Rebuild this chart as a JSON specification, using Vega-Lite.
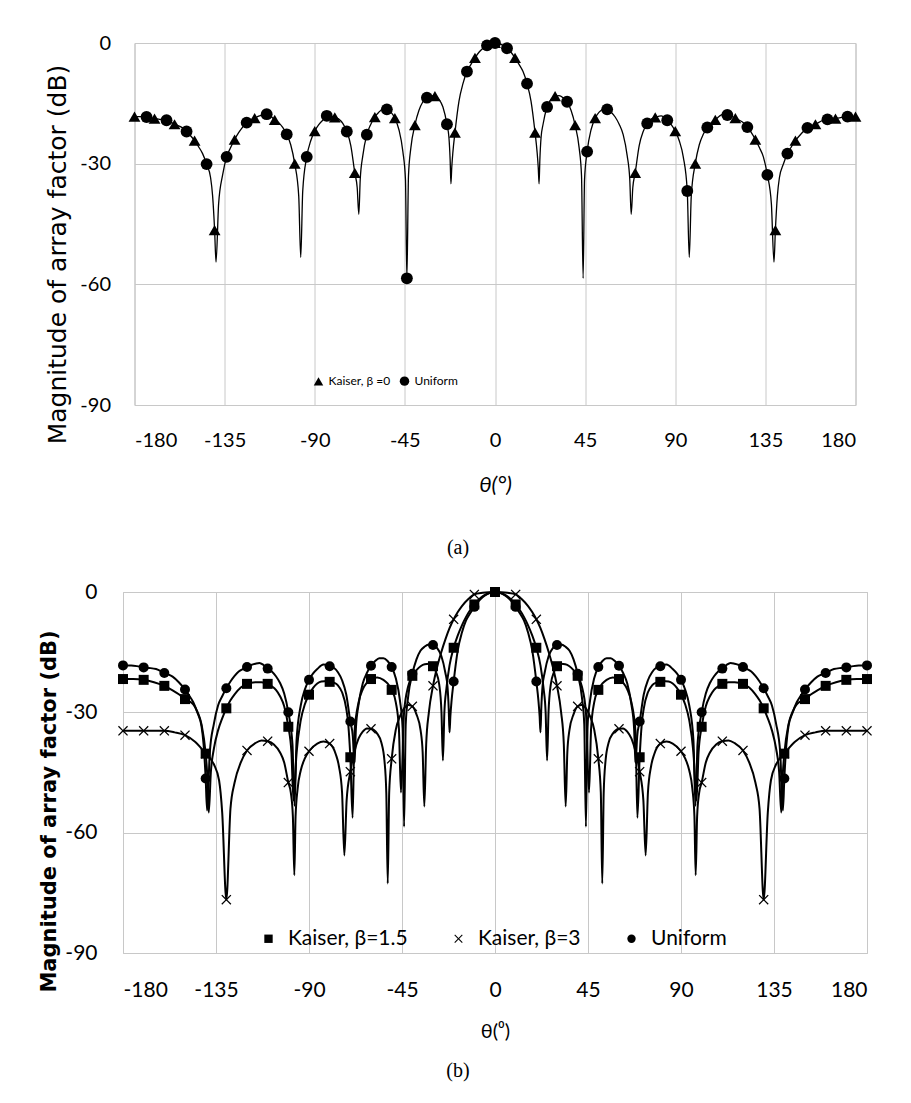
{
  "$schema": "https://vega.github.io/schema/vega-lite/v6.json",
  "autosize": {"type": "pad"},
  "padding": {"left": 37, "top": 32, "right": 20, "bottom": 10},
  "background": "white",
  "bounds": "flush",
  "center": true,
  "spacing": 187,
  "resolve": {"scale": {"shape": "independent"}, "legend": {"shape": "independent"}},
  "config": {
    "view": {"stroke": "#c4c4c4", "strokeWidth": 1},
    "axis": {"grid": true, "gridColor": "#c8c8c8", "gridWidth": 1, "domain": false, "ticks": false, "labelFont": "Lato", "labelFontSize": 20, "labelColor": "#000", "titleFont": "Lato", "titleColor": "#000", "titleFontWeight": "normal", "titleFontSize": 20},
    "legend": {"labelFont": "Lato", "labelColor": "#000"},
    "title": {"font": "Liberation Serif", "fontSize": 20, "fontWeight": "normal", "color": "#000"}
  },
  "datasets": {
    "uni": [
      {"t":-180,"v":-18.3},{"t":-176,"v":-18.3},{"t":-172,"v":-18.6},{"t":-168,"v":-18.9},{"t":-164,"v":-19.2},{"t":-160,"v":-20.2},{"t":-156,"v":-21.1},{"t":-153,"v":-22.5},{"t":-150,"v":-24.3},{"t":-148,"v":-25.8},{"t":-146,"v":-27.5},{"t":-144,"v":-30.1},{"t":-142,"v":-33.5},{"t":-141,"v":-38},{"t":-140,"v":-46.5},{"t":-139.3,"v":-54.5},{"t":-138,"v":-40},{"t":-136,"v":-32.8},{"t":-134,"v":-28.3},{"t":-132,"v":-26},{"t":-130,"v":-24},{"t":-128,"v":-22.3},{"t":-126,"v":-20.9},{"t":-124,"v":-19.8},{"t":-122,"v":-19.2},{"t":-120,"v":-18.7},{"t":-118,"v":-18.2},{"t":-116,"v":-17.9},{"t":-114,"v":-17.7},{"t":-112,"v":-18.2},{"t":-110,"v":-19.1},{"t":-108,"v":-19.8},{"t":-106,"v":-21},{"t":-104,"v":-22.7},{"t":-102,"v":-25.3},{"t":-100,"v":-30},{"t":-98,"v":-38},{"t":-97,"v":-53.3},{"t":-96,"v":-36.8},{"t":-94,"v":-28.3},{"t":-92,"v":-24.3},{"t":-90,"v":-21.9},{"t":-88,"v":-20.3},{"t":-86,"v":-19.2},{"t":-83,"v":-18.1},{"t":-80,"v":-18.5},{"t":-78,"v":-18.9},{"t":-76,"v":-20},{"t":-74,"v":-22},{"t":-72,"v":-25.5},{"t":-70,"v":-32.3},{"t":-68.8,"v":-36},{"t":-68,"v":-42.6},{"t":-67.3,"v":-34},{"t":-66,"v":-28},{"t":-64,"v":-22.8},{"t":-62,"v":-20.2},{"t":-60,"v":-18.4},{"t":-58,"v":-17.2},{"t":-56,"v":-16.5},{"t":-54,"v":-16.5},{"t":-52,"v":-17.2},{"t":-50,"v":-18.7},{"t":-48,"v":-21.5},{"t":-46,"v":-27},{"t":-44.7,"v":-34},{"t":-44,"v":-58.5},{"t":-43.2,"v":-33},{"t":-42,"v":-26},{"t":-40,"v":-20.4},{"t":-38,"v":-16.8},{"t":-36,"v":-14.6},{"t":-34,"v":-13.6},{"t":-32,"v":-13.1},{"t":-30,"v":-13.2},{"t":-28,"v":-14},{"t":-26,"v":-15.9},{"t":-24,"v":-20.2},{"t":-23,"v":-23.5},{"t":-22.4,"v":-29},{"t":-22,"v":-35},{"t":-21.6,"v":-31},{"t":-21,"v":-27},{"t":-20,"v":-22.3},{"t":-18,"v":-14.5},{"t":-16,"v":-10.1},{"t":-14,"v":-7.1},{"t":-12,"v":-5.3},{"t":-10,"v":-3.7},{"t":-8,"v":-2.3},{"t":-6,"v":-1.3},{"t":-4,"v":-0.6},{"t":-2,"v":-0.15},
      {"t":0,"v":0},{"t":2,"v":-0.15},{"t":4,"v":-0.6},{"t":6,"v":-1.3},{"t":8,"v":-2.3},{"t":10,"v":-3.7},{"t":12,"v":-5.3},{"t":14,"v":-7.1},{"t":16,"v":-10.1},{"t":18,"v":-14.5},{"t":20,"v":-22.3},{"t":21,"v":-27},{"t":21.6,"v":-31},{"t":22,"v":-35},{"t":22.4,"v":-29},{"t":23,"v":-23.5},{"t":24,"v":-20.2},{"t":26,"v":-15.9},{"t":28,"v":-14},{"t":30,"v":-13.2},{"t":32,"v":-13.1},{"t":34,"v":-13.6},{"t":36,"v":-14.6},{"t":38,"v":-16.8},{"t":40,"v":-20.4},{"t":42,"v":-26},{"t":43.2,"v":-33},{"t":44,"v":-58.5},{"t":44.7,"v":-34},{"t":46,"v":-27},{"t":48,"v":-21.5},{"t":50,"v":-18.7},{"t":52,"v":-17.2},{"t":54,"v":-16.5},{"t":56,"v":-16.5},{"t":58,"v":-17.2},{"t":60,"v":-18.4},{"t":62,"v":-20.2},{"t":64,"v":-22.8},{"t":66,"v":-28},{"t":67.3,"v":-34},{"t":68,"v":-42.6},{"t":68.8,"v":-36},{"t":70,"v":-32.3},{"t":72,"v":-25.5},{"t":74,"v":-22},{"t":76,"v":-20},{"t":78,"v":-18.9},{"t":80,"v":-18.5},{"t":83,"v":-18.1},{"t":86,"v":-19.2},{"t":88,"v":-20.3},{"t":90,"v":-21.9},{"t":92,"v":-24.3},{"t":94,"v":-28.3},{"t":96,"v":-36.8},{"t":97,"v":-53.3},{"t":98,"v":-38},{"t":100,"v":-30},{"t":102,"v":-25.3},{"t":104,"v":-22.7},{"t":106,"v":-21},{"t":108,"v":-19.8},{"t":110,"v":-19.1},{"t":112,"v":-18.2},{"t":114,"v":-17.7},{"t":116,"v":-17.9},{"t":118,"v":-18.2},{"t":120,"v":-18.7},{"t":122,"v":-19.2},{"t":124,"v":-19.8},{"t":126,"v":-20.9},{"t":128,"v":-22.3},{"t":130,"v":-24},{"t":132,"v":-26},{"t":134,"v":-28.3},{"t":136,"v":-32.8},{"t":138,"v":-40},{"t":139.3,"v":-54.5},{"t":140,"v":-46.5},{"t":141,"v":-38},{"t":142,"v":-33.5},{"t":144,"v":-30.1},{"t":146,"v":-27.5},{"t":148,"v":-25.8},{"t":150,"v":-24.3},{"t":153,"v":-22.5},{"t":156,"v":-21.1},{"t":160,"v":-20.2},{"t":164,"v":-19.2},{"t":168,"v":-18.9},{"t":172,"v":-18.6},{"t":176,"v":-18.3},{"t":180,"v":-18.3}
    ],
    "topMk": [
      {"t":-180,"v":-18.3,"s":"Kaiser, β =0"},{"t":-170,"v":-18.8,"s":"Kaiser, β =0"},{"t":-160,"v":-20.2,"s":"Kaiser, β =0"},{"t":-150,"v":-24.3,"s":"Kaiser, β =0"},{"t":-140,"v":-46.5,"s":"Kaiser, β =0"},{"t":-130,"v":-24,"s":"Kaiser, β =0"},{"t":-120,"v":-18.7,"s":"Kaiser, β =0"},{"t":-110,"v":-19.1,"s":"Kaiser, β =0"},{"t":-100,"v":-30,"s":"Kaiser, β =0"},{"t":-90,"v":-21.9,"s":"Kaiser, β =0"},{"t":-80,"v":-18.5,"s":"Kaiser, β =0"},{"t":-70,"v":-32.3,"s":"Kaiser, β =0"},{"t":-60,"v":-18.4,"s":"Kaiser, β =0"},{"t":-50,"v":-18.7,"s":"Kaiser, β =0"},{"t":-40,"v":-20.4,"s":"Kaiser, β =0"},{"t":-30,"v":-13.2,"s":"Kaiser, β =0"},{"t":-20,"v":-22.3,"s":"Kaiser, β =0"},{"t":-10,"v":-3.7,"s":"Kaiser, β =0"},{"t":0,"v":0,"s":"Kaiser, β =0"},{"t":10,"v":-3.7,"s":"Kaiser, β =0"},{"t":20,"v":-22.3,"s":"Kaiser, β =0"},{"t":30,"v":-13.2,"s":"Kaiser, β =0"},{"t":40,"v":-20.4,"s":"Kaiser, β =0"},{"t":50,"v":-18.7,"s":"Kaiser, β =0"},{"t":70,"v":-32.3,"s":"Kaiser, β =0"},{"t":80,"v":-18.5,"s":"Kaiser, β =0"},{"t":90,"v":-21.9,"s":"Kaiser, β =0"},{"t":100,"v":-30,"s":"Kaiser, β =0"},{"t":110,"v":-19.1,"s":"Kaiser, β =0"},{"t":120,"v":-18.7,"s":"Kaiser, β =0"},{"t":130,"v":-24,"s":"Kaiser, β =0"},{"t":140,"v":-46.5,"s":"Kaiser, β =0"},{"t":150,"v":-24.3,"s":"Kaiser, β =0"},{"t":160,"v":-20.2,"s":"Kaiser, β =0"},{"t":170,"v":-18.8,"s":"Kaiser, β =0"},{"t":180,"v":-18.3,"s":"Kaiser, β =0"},
      {"t":-174,"v":-18.4,"s":"Uniform"},{"t":-164,"v":-19.2,"s":"Uniform"},{"t":-154,"v":-22,"s":"Uniform"},{"t":-144,"v":-30.1,"s":"Uniform"},{"t":-134,"v":-28.3,"s":"Uniform"},{"t":-124,"v":-19.8,"s":"Uniform"},{"t":-114,"v":-17.7,"s":"Uniform"},{"t":-104,"v":-22.7,"s":"Uniform"},{"t":-94,"v":-28.3,"s":"Uniform"},{"t":-84,"v":-18.1,"s":"Uniform"},{"t":-74,"v":-22,"s":"Uniform"},{"t":-64,"v":-22.8,"s":"Uniform"},{"t":-54,"v":-16.5,"s":"Uniform"},{"t":-44,"v":-58.5,"s":"Uniform"},{"t":-34,"v":-13.6,"s":"Uniform"},{"t":-24,"v":-20.2,"s":"Uniform"},{"t":-14,"v":-7.1,"s":"Uniform"},{"t":-4,"v":-0.6,"s":"Uniform"},{"t":0,"v":0,"s":"Uniform"},{"t":6,"v":-1.3,"s":"Uniform"},{"t":16,"v":-10.1,"s":"Uniform"},{"t":26,"v":-15.9,"s":"Uniform"},{"t":36,"v":-14.6,"s":"Uniform"},{"t":46,"v":-27,"s":"Uniform"},{"t":56,"v":-16.5,"s":"Uniform"},{"t":76,"v":-20,"s":"Uniform"},{"t":86,"v":-19.2,"s":"Uniform"},{"t":96,"v":-36.8,"s":"Uniform"},{"t":106,"v":-21,"s":"Uniform"},{"t":116,"v":-17.9,"s":"Uniform"},{"t":126,"v":-20.9,"s":"Uniform"},{"t":136,"v":-32.8,"s":"Uniform"},{"t":146,"v":-27.5,"s":"Uniform"},{"t":156,"v":-21.1,"s":"Uniform"},{"t":166,"v":-19,"s":"Uniform"},{"t":176,"v":-18.3,"s":"Uniform"}
    ],
    "kai": [
      {"t":-180,"v":-21.7,"s":"b15"},{"t":-175,"v":-21.7,"s":"b15"},{"t":-170,"v":-21.9,"s":"b15"},{"t":-165,"v":-22.5,"s":"b15"},{"t":-160,"v":-23.4,"s":"b15"},{"t":-156,"v":-24.5,"s":"b15"},{"t":-153,"v":-25.5,"s":"b15"},{"t":-150,"v":-26.7,"s":"b15"},{"t":-148,"v":-27.2,"s":"b15"},{"t":-146,"v":-28,"s":"b15"},{"t":-144,"v":-29.8,"s":"b15"},{"t":-142,"v":-33,"s":"b15"},{"t":-140,"v":-40.3,"s":"b15"},{"t":-139.3,"v":-45,"s":"b15"},{"t":-138.5,"v":-55,"s":"b15"},{"t":-137.5,"v":-45,"s":"b15"},{"t":-136,"v":-39,"s":"b15"},{"t":-134,"v":-34.5,"s":"b15"},{"t":-132,"v":-31.5,"s":"b15"},{"t":-130,"v":-29,"s":"b15"},{"t":-128,"v":-27,"s":"b15"},{"t":-126,"v":-25.5,"s":"b15"},{"t":-123,"v":-23.8,"s":"b15"},{"t":-120,"v":-22.9,"s":"b15"},{"t":-116,"v":-22.5,"s":"b15"},{"t":-113,"v":-22.5,"s":"b15"},{"t":-110,"v":-22.9,"s":"b15"},{"t":-108,"v":-23.5,"s":"b15"},{"t":-106,"v":-24.4,"s":"b15"},{"t":-104,"v":-26,"s":"b15"},{"t":-102,"v":-28.5,"s":"b15"},{"t":-100,"v":-33.6,"s":"b15"},{"t":-98.5,"v":-40,"s":"b15"},{"t":-97.5,"v":-52,"s":"b15"},{"t":-96,"v":-40,"s":"b15"},{"t":-94,"v":-32,"s":"b15"},{"t":-92,"v":-28,"s":"b15"},{"t":-90,"v":-25.6,"s":"b15"},{"t":-88,"v":-23.9,"s":"b15"},{"t":-86,"v":-22.8,"s":"b15"},{"t":-84,"v":-22.3,"s":"b15"},{"t":-81,"v":-22.2,"s":"b15"},{"t":-78,"v":-22.6,"s":"b15"},{"t":-76,"v":-23.3,"s":"b15"},{"t":-74,"v":-25,"s":"b15"},{"t":-72,"v":-29,"s":"b15"},{"t":-71,"v":-33,"s":"b15"},{"t":-70,"v":-41.2,"s":"b15"},{"t":-68.9,"v":-56.3,"s":"b15"},{"t":-68,"v":-35,"s":"b15"},{"t":-66,"v":-27.5,"s":"b15"},{"t":-64,"v":-24.3,"s":"b15"},{"t":-62,"v":-22.6,"s":"b15"},{"t":-60,"v":-21.7,"s":"b15"},{"t":-57,"v":-21.3,"s":"b15"},{"t":-54,"v":-21.9,"s":"b15"},{"t":-52,"v":-22.8,"s":"b15"},{"t":-50,"v":-24.4,"s":"b15"},{"t":-48,"v":-27.5,"s":"b15"},{"t":-46.5,"v":-34,"s":"b15"},{"t":-45.5,"v":-50,"s":"b15"},{"t":-44,"v":-30,"s":"b15"},{"t":-42,"v":-23.5,"s":"b15"},{"t":-40,"v":-20.9,"s":"b15"},{"t":-38,"v":-19.5,"s":"b15"},{"t":-36,"v":-18.5,"s":"b15"},{"t":-34,"v":-18,"s":"b15"},{"t":-32,"v":-17.9,"s":"b15"},{"t":-30,"v":-18.5,"s":"b15"},{"t":-28.5,"v":-20,"s":"b15"},{"t":-27,"v":-23,"s":"b15"},{"t":-25.9,"v":-30,"s":"b15"},{"t":-25.2,"v":-42,"s":"b15"},{"t":-24.5,"v":-30,"s":"b15"},{"t":-23.5,"v":-24,"s":"b15"},{"t":-22,"v":-18.3,"s":"b15"},{"t":-20,"v":-13.9,"s":"b15"},{"t":-18,"v":-10.8,"s":"b15"},{"t":-16,"v":-8.3,"s":"b15"},{"t":-14,"v":-6.2,"s":"b15"},{"t":-12,"v":-4.5,"s":"b15"},{"t":-10,"v":-3.1,"s":"b15"},{"t":-8,"v":-2,"s":"b15"},{"t":-6,"v":-1.1,"s":"b15"},{"t":-4,"v":-0.5,"s":"b15"},{"t":-2,"v":-0.1,"s":"b15"},
      {"t":0,"v":0,"s":"b15"},{"t":2,"v":-0.1,"s":"b15"},{"t":4,"v":-0.5,"s":"b15"},{"t":6,"v":-1.1,"s":"b15"},{"t":8,"v":-2,"s":"b15"},{"t":10,"v":-3.1,"s":"b15"},{"t":12,"v":-4.5,"s":"b15"},{"t":14,"v":-6.2,"s":"b15"},{"t":16,"v":-8.3,"s":"b15"},{"t":18,"v":-10.8,"s":"b15"},{"t":20,"v":-13.9,"s":"b15"},{"t":22,"v":-18.3,"s":"b15"},{"t":23.5,"v":-24,"s":"b15"},{"t":24.5,"v":-30,"s":"b15"},{"t":25.2,"v":-42,"s":"b15"},{"t":25.9,"v":-30,"s":"b15"},{"t":27,"v":-23,"s":"b15"},{"t":28.5,"v":-20,"s":"b15"},{"t":30,"v":-18.5,"s":"b15"},{"t":32,"v":-17.9,"s":"b15"},{"t":34,"v":-18,"s":"b15"},{"t":36,"v":-18.5,"s":"b15"},{"t":38,"v":-19.5,"s":"b15"},{"t":40,"v":-20.9,"s":"b15"},{"t":42,"v":-23.5,"s":"b15"},{"t":44,"v":-30,"s":"b15"},{"t":45.5,"v":-50,"s":"b15"},{"t":46.5,"v":-34,"s":"b15"},{"t":48,"v":-27.5,"s":"b15"},{"t":50,"v":-24.4,"s":"b15"},{"t":52,"v":-22.8,"s":"b15"},{"t":54,"v":-21.9,"s":"b15"},{"t":57,"v":-21.3,"s":"b15"},{"t":60,"v":-21.7,"s":"b15"},{"t":62,"v":-22.6,"s":"b15"},{"t":64,"v":-24.3,"s":"b15"},{"t":66,"v":-27.5,"s":"b15"},{"t":68,"v":-35,"s":"b15"},{"t":68.9,"v":-56.3,"s":"b15"},{"t":70,"v":-41.2,"s":"b15"},{"t":71,"v":-33,"s":"b15"},{"t":72,"v":-29,"s":"b15"},{"t":74,"v":-25,"s":"b15"},{"t":76,"v":-23.3,"s":"b15"},{"t":78,"v":-22.6,"s":"b15"},{"t":81,"v":-22.2,"s":"b15"},{"t":84,"v":-22.3,"s":"b15"},{"t":86,"v":-22.8,"s":"b15"},{"t":88,"v":-23.9,"s":"b15"},{"t":90,"v":-25.6,"s":"b15"},{"t":92,"v":-28,"s":"b15"},{"t":94,"v":-32,"s":"b15"},{"t":96,"v":-40,"s":"b15"},{"t":97.5,"v":-52,"s":"b15"},{"t":98.5,"v":-40,"s":"b15"},{"t":100,"v":-33.6,"s":"b15"},{"t":102,"v":-28.5,"s":"b15"},{"t":104,"v":-26,"s":"b15"},{"t":106,"v":-24.4,"s":"b15"},{"t":108,"v":-23.5,"s":"b15"},{"t":110,"v":-22.9,"s":"b15"},{"t":113,"v":-22.5,"s":"b15"},{"t":116,"v":-22.5,"s":"b15"},{"t":120,"v":-22.9,"s":"b15"},{"t":123,"v":-23.8,"s":"b15"},{"t":126,"v":-25.5,"s":"b15"},{"t":128,"v":-27,"s":"b15"},{"t":130,"v":-29,"s":"b15"},{"t":132,"v":-31.5,"s":"b15"},{"t":134,"v":-34.5,"s":"b15"},{"t":136,"v":-39,"s":"b15"},{"t":137.5,"v":-45,"s":"b15"},{"t":138.5,"v":-55,"s":"b15"},{"t":139.3,"v":-45,"s":"b15"},{"t":140,"v":-40.3,"s":"b15"},{"t":142,"v":-33,"s":"b15"},{"t":144,"v":-29.8,"s":"b15"},{"t":146,"v":-28,"s":"b15"},{"t":148,"v":-27.2,"s":"b15"},{"t":150,"v":-26.7,"s":"b15"},{"t":153,"v":-25.5,"s":"b15"},{"t":156,"v":-24.5,"s":"b15"},{"t":160,"v":-23.4,"s":"b15"},{"t":165,"v":-22.5,"s":"b15"},{"t":170,"v":-21.9,"s":"b15"},{"t":175,"v":-21.7,"s":"b15"},{"t":180,"v":-21.7,"s":"b15"},
      {"t":-180,"v":-34.6,"s":"b3"},{"t":-170,"v":-34.6,"s":"b3"},{"t":-160,"v":-34.6,"s":"b3"},{"t":-155,"v":-35,"s":"b3"},{"t":-150,"v":-35.7,"s":"b3"},{"t":-145,"v":-37.4,"s":"b3"},{"t":-140,"v":-40.3,"s":"b3"},{"t":-136,"v":-43,"s":"b3"},{"t":-133.5,"v":-47,"s":"b3"},{"t":-132,"v":-55,"s":"b3"},{"t":-130,"v":-76.7,"s":"b3"},{"t":-128,"v":-54,"s":"b3"},{"t":-126,"v":-47.5,"s":"b3"},{"t":-123,"v":-42.5,"s":"b3"},{"t":-120,"v":-39.5,"s":"b3"},{"t":-116,"v":-37.7,"s":"b3"},{"t":-113,"v":-37,"s":"b3"},{"t":-110,"v":-37.2,"s":"b3"},{"t":-107,"v":-38,"s":"b3"},{"t":-104,"v":-40,"s":"b3"},{"t":-102,"v":-42.5,"s":"b3"},{"t":-100,"v":-47.5,"s":"b3"},{"t":-98.8,"v":-50,"s":"b3"},{"t":-97.8,"v":-56,"s":"b3"},{"t":-97.1,"v":-70.6,"s":"b3"},{"t":-96.5,"v":-56,"s":"b3"},{"t":-95.5,"v":-49,"s":"b3"},{"t":-94,"v":-44.5,"s":"b3"},{"t":-92,"v":-41.5,"s":"b3"},{"t":-90,"v":-39.7,"s":"b3"},{"t":-86,"v":-37.8,"s":"b3"},{"t":-83,"v":-37.3,"s":"b3"},{"t":-80,"v":-37.8,"s":"b3"},{"t":-77,"v":-40.5,"s":"b3"},{"t":-75.5,"v":-43.5,"s":"b3"},{"t":-74,"v":-50,"s":"b3"},{"t":-72.9,"v":-65.7,"s":"b3"},{"t":-71.8,"v":-52,"s":"b3"},{"t":-70,"v":-44.8,"s":"b3"},{"t":-68,"v":-39.8,"s":"b3"},{"t":-66,"v":-36.5,"s":"b3"},{"t":-64,"v":-34.8,"s":"b3"},{"t":-62,"v":-34,"s":"b3"},{"t":-60,"v":-34.1,"s":"b3"},{"t":-57,"v":-35.3,"s":"b3"},{"t":-55,"v":-37.5,"s":"b3"},{"t":-53.5,"v":-42,"s":"b3"},{"t":-52.6,"v":-50,"s":"b3"},{"t":-51.9,"v":-72.7,"s":"b3"},{"t":-51.2,"v":-50,"s":"b3"},{"t":-50,"v":-41.6,"s":"b3"},{"t":-48,"v":-34.3,"s":"b3"},{"t":-46,"v":-31,"s":"b3"},{"t":-44,"v":-29,"s":"b3"},{"t":-42,"v":-28.2,"s":"b3"},{"t":-40,"v":-28.5,"s":"b3"},{"t":-38,"v":-30.5,"s":"b3"},{"t":-36,"v":-34.5,"s":"b3"},{"t":-35,"v":-40,"s":"b3"},{"t":-34.2,"v":-53.5,"s":"b3"},{"t":-33.3,"v":-38,"s":"b3"},{"t":-32,"v":-30,"s":"b3"},{"t":-30,"v":-23.4,"s":"b3"},{"t":-28,"v":-18.7,"s":"b3"},{"t":-26,"v":-15,"s":"b3"},{"t":-24,"v":-11.8,"s":"b3"},{"t":-22,"v":-9,"s":"b3"},{"t":-20,"v":-6.8,"s":"b3"},{"t":-18,"v":-5,"s":"b3"},{"t":-16,"v":-3.5,"s":"b3"},{"t":-13,"v":-1.8,"s":"b3"},{"t":-10,"v":-0.6,"s":"b3"},{"t":-6,"v":-0.2,"s":"b3"},{"t":-3,"v":-0.05,"s":"b3"},
      {"t":0,"v":0,"s":"b3"},{"t":3,"v":-0.05,"s":"b3"},{"t":6,"v":-0.2,"s":"b3"},{"t":10,"v":-0.6,"s":"b3"},{"t":13,"v":-1.8,"s":"b3"},{"t":16,"v":-3.5,"s":"b3"},{"t":18,"v":-5,"s":"b3"},{"t":20,"v":-6.8,"s":"b3"},{"t":22,"v":-9,"s":"b3"},{"t":24,"v":-11.8,"s":"b3"},{"t":26,"v":-15,"s":"b3"},{"t":28,"v":-18.7,"s":"b3"},{"t":30,"v":-23.4,"s":"b3"},{"t":32,"v":-30,"s":"b3"},{"t":33.3,"v":-38,"s":"b3"},{"t":34.2,"v":-53.5,"s":"b3"},{"t":35,"v":-40,"s":"b3"},{"t":36,"v":-34.5,"s":"b3"},{"t":38,"v":-30.5,"s":"b3"},{"t":40,"v":-28.5,"s":"b3"},{"t":42,"v":-28.2,"s":"b3"},{"t":44,"v":-29,"s":"b3"},{"t":46,"v":-31,"s":"b3"},{"t":48,"v":-34.3,"s":"b3"},{"t":50,"v":-41.6,"s":"b3"},{"t":51.2,"v":-50,"s":"b3"},{"t":51.9,"v":-72.7,"s":"b3"},{"t":52.6,"v":-50,"s":"b3"},{"t":53.5,"v":-42,"s":"b3"},{"t":55,"v":-37.5,"s":"b3"},{"t":57,"v":-35.3,"s":"b3"},{"t":60,"v":-34.1,"s":"b3"},{"t":62,"v":-34,"s":"b3"},{"t":64,"v":-34.8,"s":"b3"},{"t":66,"v":-36.5,"s":"b3"},{"t":68,"v":-39.8,"s":"b3"},{"t":70,"v":-44.8,"s":"b3"},{"t":71.8,"v":-52,"s":"b3"},{"t":72.9,"v":-65.7,"s":"b3"},{"t":74,"v":-50,"s":"b3"},{"t":75.5,"v":-43.5,"s":"b3"},{"t":77,"v":-40.5,"s":"b3"},{"t":80,"v":-37.8,"s":"b3"},{"t":83,"v":-37.3,"s":"b3"},{"t":86,"v":-37.8,"s":"b3"},{"t":90,"v":-39.7,"s":"b3"},{"t":92,"v":-41.5,"s":"b3"},{"t":94,"v":-44.5,"s":"b3"},{"t":95.5,"v":-49,"s":"b3"},{"t":96.5,"v":-56,"s":"b3"},{"t":97.1,"v":-70.6,"s":"b3"},{"t":97.8,"v":-56,"s":"b3"},{"t":98.8,"v":-50,"s":"b3"},{"t":100,"v":-47.5,"s":"b3"},{"t":102,"v":-42.5,"s":"b3"},{"t":104,"v":-40,"s":"b3"},{"t":107,"v":-38,"s":"b3"},{"t":110,"v":-37.2,"s":"b3"},{"t":113,"v":-37,"s":"b3"},{"t":116,"v":-37.7,"s":"b3"},{"t":120,"v":-39.5,"s":"b3"},{"t":123,"v":-42.5,"s":"b3"},{"t":126,"v":-47.5,"s":"b3"},{"t":128,"v":-54,"s":"b3"},{"t":130,"v":-76.7,"s":"b3"},{"t":132,"v":-55,"s":"b3"},{"t":133.5,"v":-47,"s":"b3"},{"t":136,"v":-43,"s":"b3"},{"t":140,"v":-40.3,"s":"b3"},{"t":145,"v":-37.4,"s":"b3"},{"t":150,"v":-35.7,"s":"b3"},{"t":155,"v":-35,"s":"b3"},{"t":160,"v":-34.6,"s":"b3"},{"t":170,"v":-34.6,"s":"b3"},{"t":180,"v":-34.6,"s":"b3"}
    ],
    "botMk": [
      {"t":-180,"v":-21.7,"s":"Kaiser, β=1.5"},{"t":-170,"v":-21.9,"s":"Kaiser, β=1.5"},{"t":-160,"v":-23.4,"s":"Kaiser, β=1.5"},{"t":-150,"v":-26.7,"s":"Kaiser, β=1.5"},{"t":-140,"v":-40.3,"s":"Kaiser, β=1.5"},{"t":-130,"v":-29,"s":"Kaiser, β=1.5"},{"t":-120,"v":-22.9,"s":"Kaiser, β=1.5"},{"t":-110,"v":-22.9,"s":"Kaiser, β=1.5"},{"t":-100,"v":-33.6,"s":"Kaiser, β=1.5"},{"t":-90,"v":-25.6,"s":"Kaiser, β=1.5"},{"t":-80,"v":-22.4,"s":"Kaiser, β=1.5"},{"t":-70,"v":-41.2,"s":"Kaiser, β=1.5"},{"t":-60,"v":-21.7,"s":"Kaiser, β=1.5"},{"t":-50,"v":-24.4,"s":"Kaiser, β=1.5"},{"t":-40,"v":-20.9,"s":"Kaiser, β=1.5"},{"t":-30,"v":-18.5,"s":"Kaiser, β=1.5"},{"t":-20,"v":-13.9,"s":"Kaiser, β=1.5"},{"t":-10,"v":-3.1,"s":"Kaiser, β=1.5"},{"t":0,"v":0,"s":"Kaiser, β=1.5"},{"t":10,"v":-3.1,"s":"Kaiser, β=1.5"},{"t":20,"v":-13.9,"s":"Kaiser, β=1.5"},{"t":30,"v":-18.5,"s":"Kaiser, β=1.5"},{"t":40,"v":-20.9,"s":"Kaiser, β=1.5"},{"t":50,"v":-24.4,"s":"Kaiser, β=1.5"},{"t":60,"v":-21.7,"s":"Kaiser, β=1.5"},{"t":70,"v":-41.2,"s":"Kaiser, β=1.5"},{"t":80,"v":-22.4,"s":"Kaiser, β=1.5"},{"t":90,"v":-25.6,"s":"Kaiser, β=1.5"},{"t":100,"v":-33.6,"s":"Kaiser, β=1.5"},{"t":110,"v":-22.9,"s":"Kaiser, β=1.5"},{"t":120,"v":-22.9,"s":"Kaiser, β=1.5"},{"t":130,"v":-29,"s":"Kaiser, β=1.5"},{"t":140,"v":-40.3,"s":"Kaiser, β=1.5"},{"t":150,"v":-26.7,"s":"Kaiser, β=1.5"},{"t":160,"v":-23.4,"s":"Kaiser, β=1.5"},{"t":170,"v":-21.9,"s":"Kaiser, β=1.5"},{"t":180,"v":-21.7,"s":"Kaiser, β=1.5"},
      {"t":-180,"v":-34.6,"s":"Kaiser, β=3"},{"t":-170,"v":-34.6,"s":"Kaiser, β=3"},{"t":-160,"v":-34.6,"s":"Kaiser, β=3"},{"t":-150,"v":-35.7,"s":"Kaiser, β=3"},{"t":-140,"v":-40.3,"s":"Kaiser, β=3"},{"t":-130,"v":-76.7,"s":"Kaiser, β=3"},{"t":-120,"v":-39.5,"s":"Kaiser, β=3"},{"t":-110,"v":-37.2,"s":"Kaiser, β=3"},{"t":-100,"v":-47.5,"s":"Kaiser, β=3"},{"t":-90,"v":-39.7,"s":"Kaiser, β=3"},{"t":-80,"v":-37.8,"s":"Kaiser, β=3"},{"t":-70,"v":-44.8,"s":"Kaiser, β=3"},{"t":-60,"v":-34.1,"s":"Kaiser, β=3"},{"t":-50,"v":-41.6,"s":"Kaiser, β=3"},{"t":-40,"v":-28.5,"s":"Kaiser, β=3"},{"t":-30,"v":-23.4,"s":"Kaiser, β=3"},{"t":-20,"v":-6.8,"s":"Kaiser, β=3"},{"t":-10,"v":-0.6,"s":"Kaiser, β=3"},{"t":0,"v":0,"s":"Kaiser, β=3"},{"t":10,"v":-0.6,"s":"Kaiser, β=3"},{"t":20,"v":-6.8,"s":"Kaiser, β=3"},{"t":30,"v":-23.4,"s":"Kaiser, β=3"},{"t":40,"v":-28.5,"s":"Kaiser, β=3"},{"t":50,"v":-41.6,"s":"Kaiser, β=3"},{"t":60,"v":-34.1,"s":"Kaiser, β=3"},{"t":70,"v":-44.8,"s":"Kaiser, β=3"},{"t":80,"v":-37.8,"s":"Kaiser, β=3"},{"t":90,"v":-39.7,"s":"Kaiser, β=3"},{"t":100,"v":-47.5,"s":"Kaiser, β=3"},{"t":110,"v":-37.2,"s":"Kaiser, β=3"},{"t":120,"v":-39.5,"s":"Kaiser, β=3"},{"t":130,"v":-76.7,"s":"Kaiser, β=3"},{"t":140,"v":-40.3,"s":"Kaiser, β=3"},{"t":150,"v":-35.7,"s":"Kaiser, β=3"},{"t":160,"v":-34.6,"s":"Kaiser, β=3"},{"t":170,"v":-34.6,"s":"Kaiser, β=3"},{"t":180,"v":-34.6,"s":"Kaiser, β=3"},
      {"t":-180,"v":-18.3,"s":"Uniform"},{"t":-170,"v":-18.8,"s":"Uniform"},{"t":-160,"v":-20.2,"s":"Uniform"},{"t":-150,"v":-24.3,"s":"Uniform"},{"t":-140,"v":-46.5,"s":"Uniform"},{"t":-130,"v":-24,"s":"Uniform"},{"t":-120,"v":-18.7,"s":"Uniform"},{"t":-110,"v":-19.1,"s":"Uniform"},{"t":-100,"v":-30,"s":"Uniform"},{"t":-90,"v":-21.9,"s":"Uniform"},{"t":-80,"v":-18.5,"s":"Uniform"},{"t":-70,"v":-32.3,"s":"Uniform"},{"t":-60,"v":-18.4,"s":"Uniform"},{"t":-50,"v":-18.7,"s":"Uniform"},{"t":-40,"v":-20.4,"s":"Uniform"},{"t":-30,"v":-13.2,"s":"Uniform"},{"t":-20,"v":-22.3,"s":"Uniform"},{"t":-10,"v":-3.7,"s":"Uniform"},{"t":0,"v":0,"s":"Uniform"},{"t":10,"v":-3.7,"s":"Uniform"},{"t":20,"v":-22.3,"s":"Uniform"},{"t":30,"v":-13.2,"s":"Uniform"},{"t":40,"v":-20.4,"s":"Uniform"},{"t":50,"v":-18.7,"s":"Uniform"},{"t":60,"v":-18.4,"s":"Uniform"},{"t":70,"v":-32.3,"s":"Uniform"},{"t":80,"v":-18.5,"s":"Uniform"},{"t":90,"v":-21.9,"s":"Uniform"},{"t":100,"v":-30,"s":"Uniform"},{"t":110,"v":-19.1,"s":"Uniform"},{"t":120,"v":-18.7,"s":"Uniform"},{"t":130,"v":-24,"s":"Uniform"},{"t":140,"v":-46.5,"s":"Uniform"},{"t":150,"v":-24.3,"s":"Uniform"},{"t":160,"v":-20.2,"s":"Uniform"},{"t":170,"v":-18.8,"s":"Uniform"},{"t":180,"v":-18.3,"s":"Uniform"}
    ]
  },
  "vconcat": [
    {
      "width": 721,
      "height": 362,
      "title": {"text": "(a)", "orient": "bottom", "anchor": "middle", "offset": 43, "dx": -37},
      "encoding": {
        "x": {"field": "t", "type": "quantitative", "scale": {"domain": [-180, 180], "nice": false}, "axis": {"values": [-180, -135, -90, -45, 0, 45, 90, 135, 180], "labelExpr": "toString(datum.value)", "labelPadding": 25, "title": "θ(°)", "titlePadding": 24, "titleFontSize": 22, "titleFontStyle": "italic"}},
        "y": {"field": "v", "type": "quantitative", "scale": {"domain": [-90, 0], "nice": false}, "axis": {"values": [-90, -60, -30, 0], "labelExpr": "toString(datum.value)", "labelPadding": 24, "title": "Magnitude of array factor (dB)", "titleFont": "DejaVu Sans", "titleFontSize": 25, "titleAngle": 270, "titleAlign": "center", "titleBaseline": "bottom", "titleX": -64, "titleY": 211}}
      },
      "layer": [
        {"data": {"name": "uni"}, "mark": {"type": "line", "interpolate": "monotone", "color": "black", "strokeWidth": 1.3}},
        {"data": {"name": "topMk"}, "mark": {"type": "point", "filled": true, "opacity": 1, "color": "black", "size": 140},
         "encoding": {"shape": {"field": "s", "type": "nominal", "scale": {"domain": ["Kaiser, β =0", "Uniform"], "range": ["triangle-up", "circle"]},
           "legend": {"orient": "none", "legendX": 178, "legendY": 332, "direction": "horizontal", "title": null, "labelFontSize": 12, "symbolSize": 90, "columnPadding": 6, "labelOffset": 4, "symbolFillColor": "black", "symbolStrokeColor": "black"}}}}
      ]
    },
    {
      "width": 744,
      "height": 361,
      "title": {"text": "(b)", "orient": "bottom", "anchor": "middle", "offset": 20, "dx": -37},
      "encoding": {
        "x": {"field": "t", "type": "quantitative", "scale": {"domain": [-180, 180], "nice": false}, "axis": {"values": [-180, -135, -90, -45, 0, 45, 90, 135, 180], "labelExpr": "toString(datum.value)", "labelPadding": 26, "labelFontSize": 21, "title": "θ(⁰)", "titlePadding": 21, "titleFontSize": 20}},
        "y": {"field": "v", "type": "quantitative", "scale": {"domain": [-90, 0], "nice": false}, "axis": {"values": [-90, -60, -30, 0], "labelExpr": "toString(datum.value)", "labelPadding": 26, "labelFontSize": 21, "title": "Magnitude of array factor (dB)", "titleFont": "DejaVu Sans", "titleFontWeight": "bold", "titleFontSize": 21, "titleAngle": 270, "titleAlign": "center", "titleBaseline": "bottom", "titleX": -64, "titleY": 219}}
      },
      "layer": [
        {"data": {"name": "uni"}, "mark": {"type": "line", "interpolate": "monotone", "color": "black", "strokeWidth": 2}},
        {"data": {"name": "kai"}, "mark": {"type": "line", "interpolate": "monotone", "color": "black", "strokeWidth": 2}, "encoding": {"detail": {"field": "s"}}},
        {"data": {"name": "botMk"}, "mark": {"type": "point", "filled": true, "opacity": 1, "color": "black", "size": 100},
         "encoding": {"shape": {"field": "s", "type": "nominal", "scale": {"domain": ["Kaiser, β=1.5", "Kaiser, β=3", "Uniform"], "range": ["square", "M-1,-0.82L-0.82,-1L0,-0.18L0.82,-1L1,-0.82L0.18,0L1,0.82L0.82,1L0,0.18L-0.82,1L-1,0.82L-0.18,0Z", "circle"]},
           "legend": {"orient": "none", "legendX": 135, "legendY": 336, "direction": "horizontal", "title": null, "labelFontSize": 21, "symbolSize": 70, "columnPadding": 40, "labelOffset": 9, "symbolFillColor": "black", "symbolStrokeColor": "black"}}}}
      ]
    }
  ]
}
